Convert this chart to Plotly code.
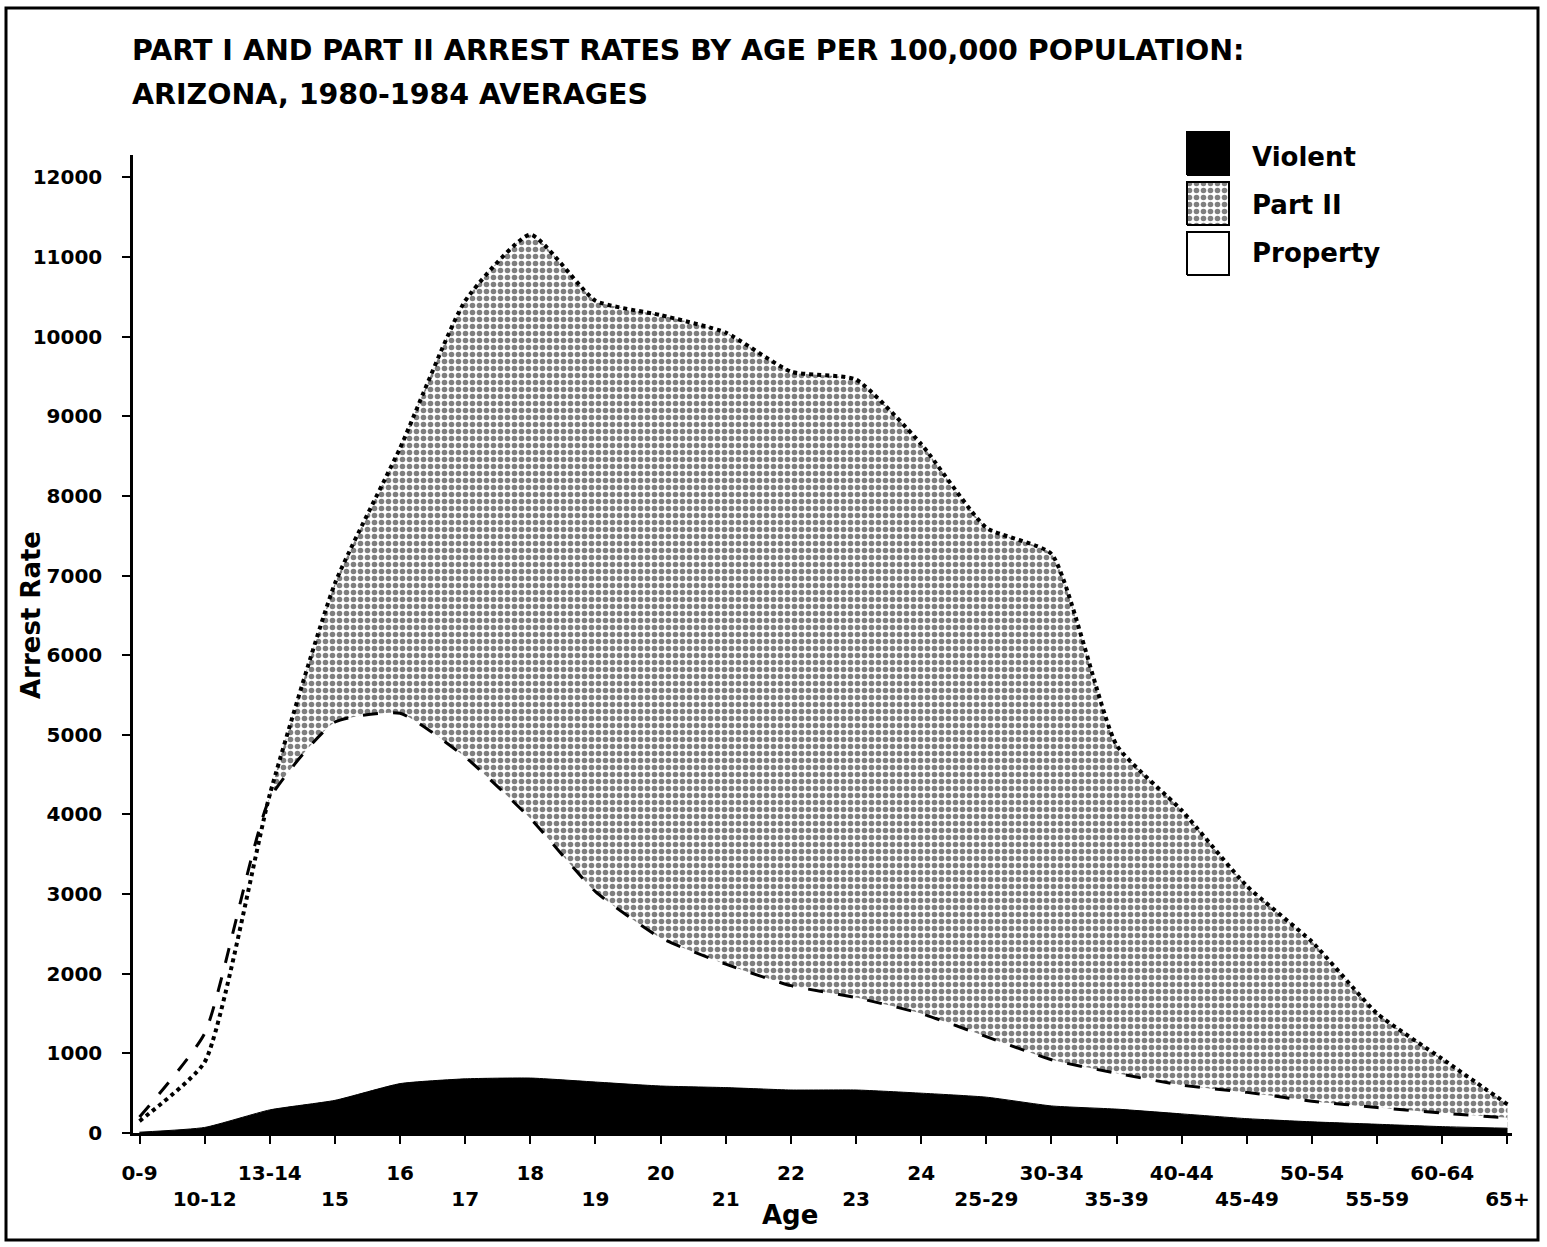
import plotly.graph_objects as go

# Age groups and arrest rates per 100,000 population (Arizona, 1980-1984 averages)
age_groups = ["0-9", "10-12", "13-14", "15", "16", "17", "18", "19", "20", "21",
              "22", "23", "24", "25-29", "30-34", "35-39", "40-44", "45-49",
              "50-54", "55-59", "60-64", "65+"]
part2 = [150, 890, 4250, 6900, 8600, 10450, 11280, 10450, 10270, 10050, 9560,
         9460, 8650, 7600, 7270, 4870, 4050, 3100, 2400, 1500, 930, 360]
property_rate = [200, 1250, 4200, 5160, 5270, 4720, 3950, 3030, 2450, 2120, 1850,
                 1700, 1500, 1210, 920, 750, 600, 510, 400, 320, 250, 190]
violent = [10, 70, 290, 410, 620, 680, 690, 640, 590, 570, 540, 540, 500, 450,
           340, 300, 240, 180, 140, 110, 80, 60]
y_ticks = [0, 1000, 2000, 3000, 4000, 5000, 6000, 7000, 8000, 9000, 10000, 11000, 12000]
y_tick_text = [str(v) for v in y_ticks]
legend_names = ["Violent", "Part II", "Property"]

FONT = "DejaVu Sans"
x = list(range(len(age_groups)))
# stagger the category labels over two rows
tick_text = [g if i % 2 == 0 else "<br>" + g for i, g in enumerate(age_groups)]

stipple = dict(shape=".", fgcolor="black", bgcolor="white", size=7, solidity=0.5,
               fillmode="overlay")
smooth = dict(shape="spline", smoothing=0.5)

fig = go.Figure()
# Part II area (stippled)
fig.add_trace(go.Scatter(x=x, y=part2, mode="lines", fill="tozeroy",
                         fillcolor="white", fillpattern=stipple,
                         line=dict(width=0, color="black", **smooth), showlegend=False))
# Property area (white) laid over it
fig.add_trace(go.Scatter(x=x, y=property_rate, mode="lines", fill="tozeroy",
                         fillcolor="white",
                         line=dict(width=0, color="white", **smooth), showlegend=False))
# Outlines
fig.add_trace(go.Scatter(x=x, y=part2, mode="lines",
                         line=dict(width=4, color="black", dash="dot", **smooth),
                         showlegend=False))
fig.add_trace(go.Scatter(x=x, y=property_rate, mode="lines",
                         line=dict(width=3, color="black", dash="longdash", **smooth),
                         showlegend=False))
# Violent area (solid black)
fig.add_trace(go.Scatter(x=x, y=violent, mode="lines", fill="tozeroy",
                         fillcolor="black",
                         line=dict(width=1, color="black", **smooth), showlegend=False))

# Legend swatches drawn on a small auxiliary axis
sw = [(102, 146, "black", None), (52, 95, "white", stipple), (2, 45, "white", None)]
for y0, y1, col, pat in sw:
    kw = dict(fillpattern=pat) if pat else {}
    fig.add_trace(go.Scatter(x=[1, 43, 43, 1, 1], y=[y0, y0, y1, y1, y0],
                             mode="lines", fill="toself", fillcolor=col,
                             line=dict(color="black", width=2),
                             xaxis="x2", yaxis="y2", showlegend=False,
                             hoverinfo="skip", **kw))

W, H = 1547, 1247
L, R, T, B = 133, 35, 100, 114
ph = H - T - B


def py(px):
    return (H - B - px) / ph


def pxx(px):
    return (px - L) / (W - L - R)


fig.update_layout(
    width=W, height=H,
    margin=dict(l=L, r=R, t=T, b=B),
    paper_bgcolor="white", plot_bgcolor="white",
    font=dict(family=FONT, color="black"),
    xaxis=dict(range=[-0.1, 21.07], tickmode="array", tickvals=x, ticktext=tick_text,
               showline=True, linecolor="black", linewidth=2.5, ticks="outside",
               ticklen=8, tickwidth=2, tickcolor="black", showgrid=False,
               zeroline=False, tickangle=0, ticklabelstandoff=12,
               tickfont=dict(family=FONT, size=20, weight="bold")),
    yaxis=dict(range=[0, 12280], domain=[0, py(155)], tickmode="array",
               tickvals=y_ticks, ticktext=y_tick_text, showline=True,
               linecolor="black", linewidth=2.5,
               ticks="outside", ticklen=8, tickwidth=2, tickcolor="black",
               showgrid=False, zeroline=False, ticklabelstandoff=16,
               tickfont=dict(family=FONT, size=20, weight="bold")),
    xaxis2=dict(domain=[pxx(1186), pxx(1230)], range=[0, 44], visible=False,
                anchor="y2", fixedrange=True),
    yaxis2=dict(domain=[py(277), py(131)], range=[0, 146], visible=False,
                anchor="x2", fixedrange=True),
)

ann = [
    dict(text="PART I AND PART II ARREST RATES BY AGE PER 100,000 POPULATION:",
         x=pxx(130), y=py(50), size=28.5, xanchor="left"),
    dict(text="ARIZONA, 1980-1984 AVERAGES", x=pxx(130), y=py(95), size=28.5,
         xanchor="left"),
    dict(text="Age", x=pxx(790), y=py(1215), size=26, xanchor="center"),
]
for a in ann:
    fig.add_annotation(text=a["text"], x=a["x"], y=a["y"], xref="paper", yref="paper",
                       xanchor=a["xanchor"], yanchor="middle", showarrow=False,
                       font=dict(family=FONT, size=a["size"], weight="bold"))
fig.add_annotation(text="Arrest Rate", x=pxx(31), y=py(615), xref="paper", yref="paper",
                   textangle=-90, showarrow=False, xanchor="center", yanchor="middle",
                   font=dict(family=FONT, size=26, weight="bold"))
for name, ypx in zip(legend_names, [157, 205, 253]):
    fig.add_annotation(text=name, x=pxx(1250), y=py(ypx), xref="paper", yref="paper",
                       xanchor="left", yanchor="middle", showarrow=False,
                       font=dict(family=FONT, size=26, weight="bold"))

# Frame around the whole figure
fig.add_shape(type="rect", xref="paper", yref="paper",
              x0=pxx(6), x1=pxx(1538), y0=py(1240), y1=py(8),
              line=dict(color="black", width=3), fillcolor="rgba(0,0,0,0)")

fig.write_html("out.html")
